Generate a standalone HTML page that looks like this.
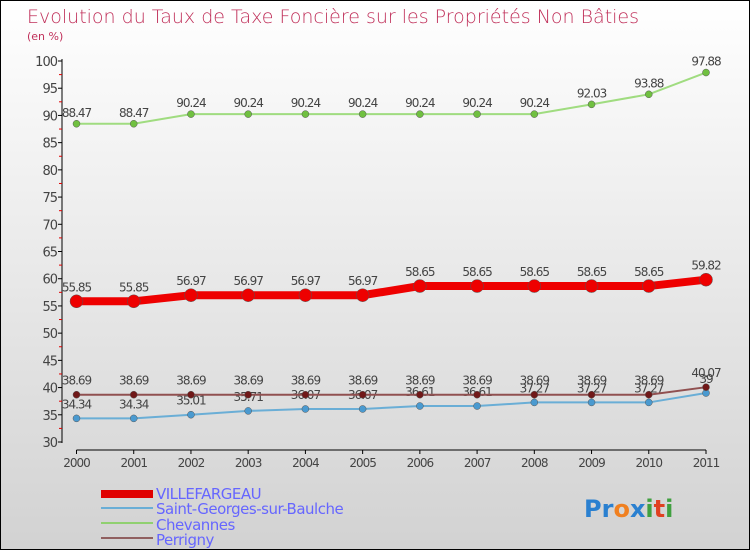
<!DOCTYPE html>
<html><head><meta charset="utf-8"><style>
body{margin:0}
#wrap{width:748px;height:548px;border:1px solid #000;background:linear-gradient(#fff,#d2d2d2);position:relative;overflow:hidden;font-family:"DejaVu Sans","Liberation Sans",sans-serif}
</style></head><body>
<div id="wrap">
<svg id="svg" width="748" height="548" xmlns="http://www.w3.org/2000/svg">
<text x="26" y="22" font-size="19" fill="#c0305a" font-family="DejaVu Sans,sans-serif" style="font-weight:200">Evolution du Taux de Taxe Foncière sur les Propriétés Non Bâties</text>
<text x="26" y="39" font-size="11" fill="#c0305a">(en %)</text>
<g id="axes"></g><g id="series"></g>
<g>
<rect x="100" y="489" width="52" height="8" fill="#e00000"/>
<text x="155" y="498" font-size="15" fill="#6666ff" letter-spacing="-0.5">VILLEFARGEAU</text>
<line x1="100" y1="507" x2="152" y2="507" stroke="#6aaed6" stroke-width="2"/>
<text x="155" y="513" font-size="15" fill="#6666ff" letter-spacing="-0.5">Saint-Georges-sur-Baulche</text>
<line x1="100" y1="522" x2="152" y2="522" stroke="#90d070" stroke-width="2"/>
<text x="155" y="529" font-size="15" fill="#6666ff" letter-spacing="-0.5">Chevannes</text>
<line x1="100" y1="537" x2="152" y2="537" stroke="#906060" stroke-width="2"/>
<text x="155" y="544" font-size="15" fill="#6666ff" letter-spacing="-0.5">Perrigny</text>
</g>
<text x="583" y="516" font-size="24" font-weight="bold"><tspan fill="#2a80d0">Pr</tspan><tspan fill="#f08020">o</tspan><tspan fill="#2a80d0">x</tspan><tspan fill="#40a040">i</tspan><tspan fill="#e04020">t</tspan><tspan fill="#40a040">i</tspan></text>
</svg></div>
<script>
const years=["2000","2001","2002","2003","2004","2005","2006","2007","2008","2009","2010","2011"];
const yTicks=[30,35,40,45,50,55,60,65,70,75,80,85,90,95,100];
const villefargeau=[55.85,55.85,56.97,56.97,56.97,56.97,58.65,58.65,58.65,58.65,58.65,59.82];
const saintGeorges=[34.34,34.34,35.01,35.71,36.07,36.07,36.61,36.61,37.27,37.27,37.27,39];
const chevannes=[88.47,88.47,90.24,90.24,90.24,90.24,90.24,90.24,90.24,92.03,93.88,97.88];
const perrigny=[38.69,38.69,38.69,38.69,38.69,38.69,38.69,38.69,38.69,38.69,38.69,40.07];
const NS="http://www.w3.org/2000/svg";
const X=i=>75.5+i*(705-75.5)/11;
const Y=v=>441-(v-30)*(381/70);
function mk(t,a,p){const e=document.createElementNS(NS,t);for(const k in a)e.setAttribute(k,a[k]);p.appendChild(e);return e;}
const ax=document.getElementById('axes');
let l=mk('line',{x1:61,y1:58,x2:61,y2:442,stroke:'#000'},ax);


l=mk('line',{x1:X(0),y1:449,x2:X(11),y2:449,stroke:'#000'},ax);


yTicks.forEach(v=>{mk('line',{x1:57,y1:Y(v),x2:61,y2:Y(v),stroke:'#000'},ax);
 if(v<100)mk('line',{x1:58,y1:Y(v+2.5),x2:61,y2:Y(v+2.5),stroke:'#e00000'},ax);
 const t=mk('text',{x:56,y:Y(v)+5,'text-anchor':'end','font-size':13,fill:'#444','letter-spacing':'-1'},ax);t.textContent=v;
 
 });
years.forEach((y,i)=>{mk('line',{x1:X(i),y1:449,x2:X(i),y2:453,stroke:'#000'},ax);
 const t=mk('text',{x:X(i),y:466,'text-anchor':'middle','font-size':12,fill:'#444','letter-spacing':'-1'},ax);t.textContent=y;
 
 });
const sg=document.getElementById('series');
function series(name,vals,color,w,r,dot,dy){
 const g=mk('g',{},sg);
 
 
 mk('polyline',{points:vals.map((v,i)=>X(i)+','+Y(v)).join(' '),fill:'none',stroke:color,'stroke-width':w},g);
 vals.forEach((v,i)=>{const c=mk('circle',{cx:X(i),cy:Y(v),r:r,fill:dot,stroke:'#555','stroke-width':0.5},g);
  
  
  const t=mk('text',{x:X(i),y:Y(v)+dy,'text-anchor':'middle','font-size':12,fill:'#444','letter-spacing':'-1'},g);t.textContent=v;
  
  });
}
series('chevannes',chevannes,'#a0dc80',2,3.5,'#70c040',-7);
series('saint-georges',saintGeorges,'#6aaed6',2,3.5,'#4a9ad0',-10);
series('perrigny',perrigny,'#905050',2,3.5,'#701818',-10);
series('villefargeau',villefargeau,'#ee0000',8,6.5,'#ee0000',-10);
</script>
</body></html>
